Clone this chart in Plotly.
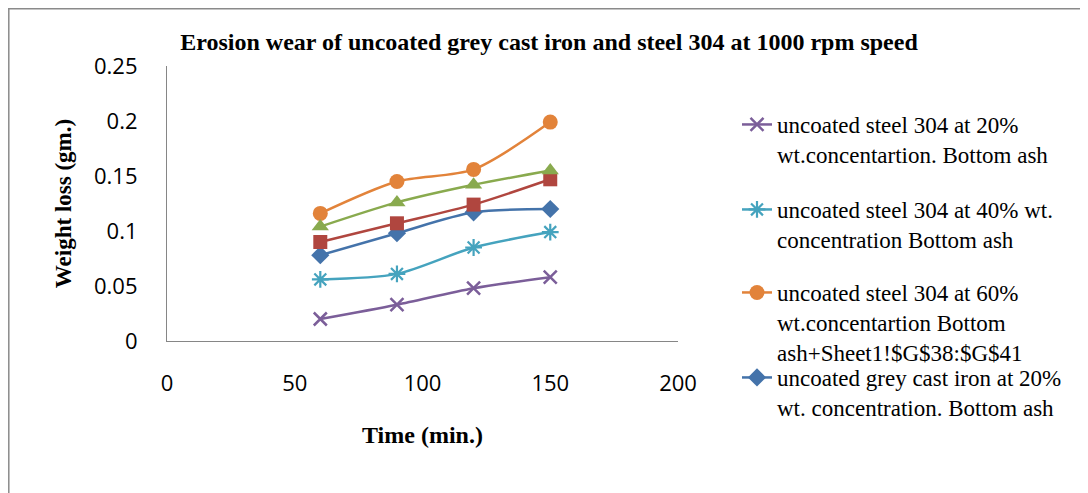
import plotly.graph_objects as go

time_min = [60, 90, 120, 150]

steel_20 = [0.020, 0.033, 0.048, 0.058]
steel_40 = [0.056, 0.061, 0.085, 0.099]
steel_60 = [0.116, 0.145, 0.156, 0.199]
gci_20 = [0.078, 0.098, 0.117, 0.120]
gci_40 = [0.090, 0.107, 0.124, 0.147]
gci_60 = [0.104, 0.126, 0.142, 0.155]

names = [
    "uncoated steel 304 at 20%<br>wt.concentartion. Bottom ash",
    "uncoated steel 304 at 40% wt.<br>concentration Bottom ash",
    "uncoated steel 304 at 60%<br>wt.concentartion Bottom<br>ash+Sheet1!$G$38:$G$41",
    "uncoated grey cast iron at 20%<br>wt. concentration. Bottom ash",
    "uncoated grey cast iron at 40%<br>wt. concentration. Bottom ash",
    "uncoated grey cast iron at 60%<br>wt. concentration. Bottom ash",
]

OFF = 8  # page body margin
W, H = 1088 - OFF, 493 - OFF
# plot area in page pixels
PL, PR, PT, PB = 167 - OFF, 678 - OFF, 66 - OFF, 341 - OFF


def px_x(px):
    return (px - OFF - PL) / (PR - PL)


def px_y(py):
    return (PB - (py - OFF)) / (PB - PT)


fig = go.Figure()


def add(y, name, color, symbol, size, legend, lw=0):
    fig.add_trace(go.Scatter(
        x=time_min, y=y, name=name, mode="lines+markers",
        line=dict(color=color, width=2.5, shape="spline", smoothing=0.8),
        marker=dict(symbol=symbol, size=size, color=color,
                    line=dict(color=color, width=lw)),
        showlegend=legend is not None,
        legend=legend if legend else "legend",
    ))


add(steel_20, names[0], "#7B5E99", "x-thin", 13, "legend", 2.5)
add(steel_40, names[1], "#45A3BE", "asterisk", 14, "legend2", 2.2)
add(steel_60, names[2], "#E2833A", "circle", 15, "legend3")
add(gci_20, names[3], "#4473AA", "diamond", 14, "legend4")
add(gci_40, names[4], "#B0463F", "square", 14, None)
add(gci_60, names[5], "#89AA4E", "triangle-up", 15, None)

leg_font = dict(family="Liberation Serif", size=23, color="black")


def leg(top_py):
    return dict(
        x=px_x(737), xanchor="left", y=px_y(top_py), yanchor="top",
        font=leg_font, valign="top", bgcolor="rgba(0,0,0,0)",
        maxheight=400,
    )


fig.update_layout(
    width=W, height=H,
    margin=dict(l=PL, r=W - PR, t=PT, b=H - PB, autoexpand=False),
    paper_bgcolor="white", plot_bgcolor="white",
    title=dict(
        text="<b>Erosion wear of uncoated grey cast iron and steel 304 at 1000 rpm speed</b>",
        font=dict(family="Liberation Serif", size=24, color="black"),
        x=(549 - OFF) / W, xref="container", xanchor="center",
        y=1 - (42 - OFF) / H, yref="container", yanchor="middle",
    ),
    xaxis=dict(
        range=[0, 200], tickvals=[0, 50, 100, 150, 200],
        showgrid=False, zeroline=False, showline=True,
        linecolor="#868686", linewidth=1.2, ticks="",
        ticklabelstandoff=22,
        tickfont=dict(family="Open Sans", size=22, color="black"),
        title=dict(text="<b>Time (min.)</b>", standoff=30,
                   font=dict(family="Liberation Serif", size=24, color="black")),
    ),
    yaxis=dict(
        range=[0, 0.25], tickvals=[0, 0.05, 0.1, 0.15, 0.2, 0.25],
        ticktext=["0", "0.05", "0.1", "0.15", "0.2", "0.25"],
        showgrid=False, zeroline=False, showline=True,
        linecolor="#868686", linewidth=1.2, ticks="",
        ticklabelstandoff=24,
        tickfont=dict(family="Open Sans", size=22, color="black"),
        title=dict(text="<b>Weight loss (gm.)</b>", standoff=15,
                   font=dict(family="Liberation Serif", size=23, color="black")),
    ),
    legend=leg(103),
    legend2=leg(188),
    legend3=leg(271),
    legend4=leg(356),
    shapes=[
        dict(type="line", xref="paper", yref="paper",
             x0=px_x(8.8), x1=px_x(8.8), y0=px_y(8), y1=px_y(520),
             line=dict(color="#8A8A8A", width=1.5)),
        dict(type="line", xref="paper", yref="paper",
             x0=px_x(8), x1=px_x(1120), y0=px_y(8.8), y1=px_y(8.8),
             line=dict(color="#8A8A8A", width=1.5)),
    ],
)

fig.write_html("out.html")
